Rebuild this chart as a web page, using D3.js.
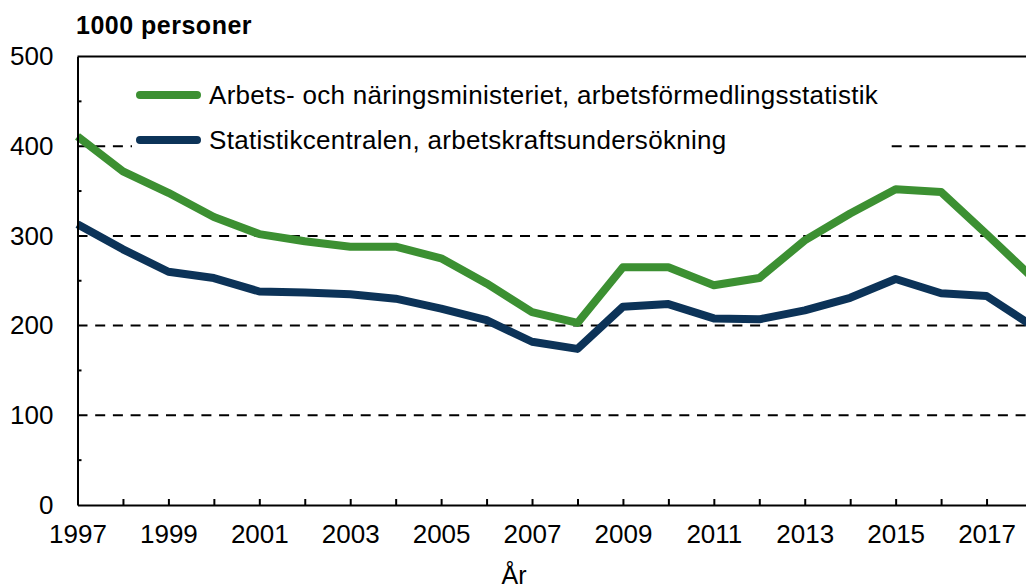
<!DOCTYPE html>
<html>
<head>
<meta charset="utf-8">
<script src="https://cdn.jsdelivr.net/npm/d3@7"></script>
<style>
    html, body { margin: 0; padding: 0; background: #fff; overflow: hidden; }
</style>
</head>
<body>
<div id="chart"></div>
<script>
const years = [1997, 1998, 1999, 2000, 2001, 2002, 2003, 2004, 2005, 2006, 2007,
    2008, 2009, 2010, 2011, 2012, 2013, 2014, 2015, 2016, 2017, 2018];
const tem = [411, 372, 348, 321, 302, 294, 288, 288, 275, 247, 215,
    203, 265, 265, 245, 253, 295, 325, 352, 349, 302, 254];
const tilastokeskus = [313, 285, 260, 253, 238, 237, 235, 230, 219, 206, 182,
    174, 221, 224, 208, 207, 217, 231, 252, 236, 233, 200];
const seriesNames = [
    "Arbets- och näringsministeriet, arbetsförmedlingsstatistik",
    "Statistikcentralen, arbetskraftsundersökning"
];
const yTicks = [0, 100, 200, 300, 400, 500];
const yMinorTicks = [50, 150, 250, 350, 450];
const xLabels = [1997, 1999, 2001, 2003, 2005, 2007, 2009, 2011, 2013, 2015, 2017];

const width = 1026;
const height = 588;
const margin = { top: 56.5, right: -6, bottom: 83, left: 77.5 };
const innerW = width - margin.left - margin.right;
const innerH = height - margin.top - margin.bottom;

const svg = d3.select("#chart")
    .append("svg")
    .attr("width", width)
    .attr("height", height)
    .style("font-family", "Arial, 'Liberation Sans', sans-serif")
    .append("g")
    .attr("transform", `translate(${margin.left},${margin.top})`);

const x = d3.scaleLinear()
    .domain([1997, 2018])
    .range([0, innerW]);

const y = d3.scaleLinear()
    .domain([0, 500])
    .range([innerH, 0]);

// dashed grid
svg.append("g")
    .selectAll("line")
    .data(yTicks.filter(d => d > 0 && d < 500))
    .enter()
    .append("line")
    .attr("x1", 0)
    .attr("x2", innerW)
    .attr("y1", d => y(d))
    .attr("y2", d => y(d))
    .attr("stroke", "#000")
    .attr("stroke-width", 2)
    .attr("stroke-dasharray", "10,7.7");

// legend background hides the grid behind it
svg.append("rect")
    .attr("x", 132 - margin.left)
    .attr("y", 70 - margin.top)
    .attr("width", 885 - 132)
    .attr("height", 90)
    .attr("fill", "#fff");

const line = d3.line()
    .x((d, i) => x(years[i]))
    .y(d => y(d));

const series = [
    { name: seriesNames[0], values: tem, color: "#3c9032" },
    { name: seriesNames[1], values: tilastokeskus, color: "#0c3358" }
];

series.forEach(s => {
    svg.append("path")
        .datum(s.values)
        .attr("fill", "none")
        .attr("stroke", s.color)
        .attr("stroke-width", 8)
        .attr("stroke-linejoin", "round")
        .attr("d", line);
});

// axes
const xAxis = d3.axisBottom(x)
    .tickValues(years)
    .tickSizeInner(-6)
    .tickSizeOuter(0)
    .tickFormat(d => xLabels.includes(d) ? d : "");

svg.append("g")
    .attr("transform", `translate(0,${innerH})`)
    .call(xAxis)
    .call(g => g.select(".domain").attr("stroke-width", 2))
    .call(g => g.selectAll(".tick line").attr("stroke-width", 2))
    .call(g => g.selectAll(".tick text")
        .attr("y", 20)
        .attr("dy", "0.71em")
        .attr("font-size", "26px")
        .attr("fill", "#000"));

const yAxis = d3.axisLeft(y)
    .tickValues(yTicks)
    .tickSize(0)
    .tickPadding(24);

svg.append("g")
    .call(yAxis)
    .call(g => g.select(".domain").attr("stroke-width", 2))
    .call(g => g.selectAll(".tick text")
        .attr("font-size", "26px")
        .attr("fill", "#000"));

svg.append("g")
    .selectAll("line")
    .data(yMinorTicks)
    .enter()
    .append("line")
    .attr("x1", 0)
    .attr("x2", 4)
    .attr("y1", d => y(d))
    .attr("y2", d => y(d))
    .attr("stroke", "#000")
    .attr("stroke-width", 2);

// top frame
svg.append("line")
    .attr("x1", 0)
    .attr("x2", innerW)
    .attr("y1", 0)
    .attr("y2", 0)
    .attr("stroke", "#000")
    .attr("stroke-width", 2);

// legend
const legend = svg.append("g")
    .attr("transform", `translate(${140 - margin.left},${95 - margin.top})`);

series.forEach((s, i) => {
    legend.append("line")
        .attr("x1", 0)
        .attr("x2", 57)
        .attr("y1", i * 45)
        .attr("y2", i * 45)
        .attr("stroke", s.color)
        .attr("stroke-width", 8)
        .attr("stroke-linecap", "round");
    legend.append("text")
        .attr("x", 69)
        .attr("y", i * 45)
        .attr("dy", "0.35em")
        .attr("font-size", "26px")
        .attr("letter-spacing", "0.3px")
        .attr("fill", "#000")
        .text(s.name);
});

svg.append("text")
    .attr("x", 76 - margin.left)
    .attr("y", 34 - margin.top)
    .attr("font-size", "25px")
    .attr("font-weight", "bold")
    .attr("letter-spacing", "0.5px")
    .text("1000 personer");

svg.append("text")
    .attr("x", 514 - margin.left)
    .attr("y", 584 - margin.top)
    .attr("text-anchor", "middle")
    .attr("font-size", "25px")
    .text("År");
</script>
</body>
</html>
